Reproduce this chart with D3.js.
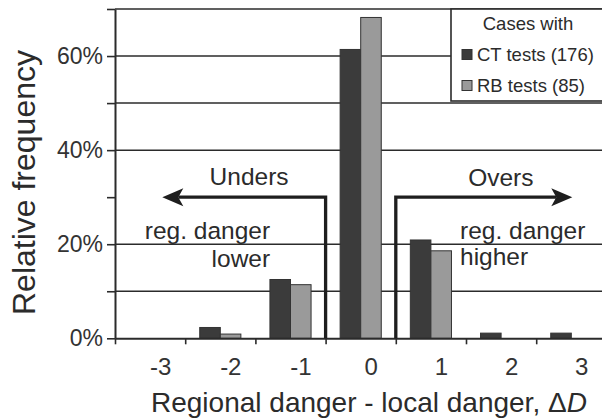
<!DOCTYPE html>
<html>
<head>
<meta charset="utf-8">
<script src="https://cdn.jsdelivr.net/npm/d3@7"></script>
<style>
  html, body { margin: 0; padding: 0; background: #fff; }
  svg { display: block; font-family: "Liberation Sans", Arial, sans-serif; }
</style>
</head>
<body>
<svg id="chart" width="602" height="419"></svg>
<script>
// ---- data ----
const categories = [-3, -2, -1, 0, 1, 2, 3];
const ctValues = [0, 2.3, 12.5, 61.4, 20.9, 1.1, 1.1];   // CT tests (176), %
const rbValues = [0, 0.9, 11.4, 68.2, 18.6, 0, 0];       // RB tests (85), %
const seriesNames = ["CT tests (176)", "RB tests (85)"];
const yTickLabels = [0, 20, 40, 60];
const gridValues = [10, 20, 40, 50, 60, 70];
const xBoundaries = [-3.5, -2.5, -1.5, -0.5, 0.5, 1.5, 2.5, 3.5];

// ---- layout ----
const svg = d3.select("#chart");
const ink = "#2b2b2b";
const x = d3.scaleLinear().domain([-3.5, 3.5]).range([115, 606.4]);
const y = d3.scaleLinear().domain([0, 70]).range([338.3, 9]);
const barW = 0.293; // in category units
const colors = ["#3b3b3b", "#9a9a9a"];

// gridlines
svg.append("g").selectAll("line").data(gridValues).join("line")
  .attr("x1", x(-3.5)).attr("x2", 602)
  .attr("y1", d => y(d)).attr("y2", d => y(d))
  .attr("stroke", ink).attr("stroke-width", 1.5);

// bars
const barData = [];
categories.forEach((c, i) => {
  barData.push({c, v: ctValues[i], s: 0});
  barData.push({c, v: rbValues[i], s: 1});
});
svg.append("g").selectAll("rect").data(barData.filter(d => d.v > 0)).join("rect")
  .attr("x", d => d.s === 0 ? x(d.c - barW) : x(d.c))
  .attr("width", x(barW) - x(0))
  .attr("y", d => y(d.v))
  .attr("height", d => y(0) - y(d.v))
  .attr("fill", d => colors[d.s])
  .attr("stroke", "#333").attr("stroke-width", 1);

// y axis
const yAxis = d3.axisLeft(y)
  .tickValues(d3.range(0, 71, 10))
  .tickSize(8).tickSizeOuter(0).tickPadding(4)
  .tickFormat(d => yTickLabels.includes(d) ? d + "%" : "");
const gy = svg.append("g").attr("transform", `translate(${x(-3.5)},0)`).call(yAxis);
gy.select(".domain").attr("stroke", ink).attr("stroke-width", 2);
gy.selectAll(".tick line").attr("stroke", ink).attr("stroke-width", 1.6);
gy.selectAll(".tick text").attr("fill", "#333").attr("font-size", 23)
  .attr("font-family", "Liberation Sans, Arial, sans-serif");

// x axis (boundary ticks)
const xAxis = d3.axisBottom(x).tickValues(xBoundaries).tickSize(6).tickSizeOuter(0).tickFormat("");
const gx = svg.append("g").attr("transform", `translate(0,${y(0)})`).call(xAxis);
gx.select(".domain").attr("stroke", ink).attr("stroke-width", 2);
gx.selectAll(".tick line").attr("stroke", ink).attr("stroke-width", 1.6);

// x labels
const xLab = d3.axisBottom(x).tickValues(categories).tickSize(0).tickFormat(d => String(d));
const gxl = svg.append("g").attr("transform", `translate(0,${y(0)})`).call(xLab);
gxl.select(".domain").remove();
gxl.selectAll(".tick text").attr("fill", "#333").attr("font-size", 24)
  .attr("font-family", "Liberation Sans, Arial, sans-serif")
  .attr("dx", 10).attr("dy", 0).attr("y", 37);

// arrows
const level = 30;
function arrowHead(tipX, yy, dir) {
  const L = 21, H = 9, notch = 16;
  return `M${tipX},${yy} L${tipX - dir * L},${yy - H} L${tipX - dir * notch},${yy} L${tipX - dir * L},${yy + H} Z`;
}
const arrows = [
  {from: -0.5, to: -2.826, dir: -1},
  {from: 0.5, to: 3.014, dir: 1}
];
const ga = svg.append("g");
arrows.forEach(a => {
  const yy = y(level);
  const tip = x(a.to);
  ga.append("path")
    .attr("d", `M${x(a.from)},${y(0)} V${yy} H${tip - a.dir * 16}`)
    .attr("fill", "none").attr("stroke", "#1e1e1e").attr("stroke-width", 3.3)
    .attr("stroke-linejoin", "miter");
  ga.append("path").attr("d", arrowHead(tip, yy, a.dir)).attr("fill", "#1e1e1e");
});

// annotations
const ann = svg.append("g").attr("fill", "#2b2b2b").attr("font-size", 24.5);
ann.append("text").attr("x", x(-1.59)).attr("y", 185).attr("text-anchor", "middle").text("Unders");
ann.append("text").attr("x", x(1.996)).attr("y", 186).attr("text-anchor", "middle").text("Overs");
ann.append("text").attr("x", x(-1.29)).attr("y", 239).attr("text-anchor", "end").text("reg. danger");
ann.append("text").attr("x", x(-1.29)).attr("y", 266.5).attr("text-anchor", "end").text("lower");
ann.append("text").attr("x", x(1.415)).attr("y", 239).attr("text-anchor", "start").text("reg. danger");
ann.append("text").attr("x", x(1.415)).attr("y", 265).attr("text-anchor", "start").text("higher");

// legend
const lg = svg.append("g");
lg.append("rect").attr("x", 451).attr("y", y(70)).attr("width", 160).attr("height", 101 - y(70))
  .attr("fill", "#fff").attr("stroke", ink).attr("stroke-width", 1.6);
lg.append("text").attr("x", 528).attr("y", 30).attr("text-anchor", "middle")
  .attr("font-size", 18.5).attr("fill", "#2b2b2b").text("Cases with");
seriesNames.forEach((n, i) => {
  const base = 61 + i * 31;
  lg.append("rect").attr("x", 462).attr("y", base - 11.5).attr("width", 10).attr("height", 10)
    .attr("fill", colors[i]).attr("stroke", "#333").attr("stroke-width", 1);
  lg.append("text").attr("x", 477).attr("y", base).attr("font-size", 18.5)
    .attr("fill", "#2b2b2b").text(n);
});

// axis titles
svg.append("text").attr("transform", "translate(35,182.5) rotate(-90)")
  .attr("text-anchor", "middle").attr("font-size", 32).attr("fill", "#2b2b2b")
  .text("Relative frequency");
const xt = svg.append("text").attr("x", 151).attr("y", 411.5)
  .attr("font-size", 28).attr("fill", "#2b2b2b");
xt.append("tspan").text("Regional danger - local danger, \u0394");
xt.append("tspan").attr("font-style", "italic").text("D");
</script>
</body>
</html>
